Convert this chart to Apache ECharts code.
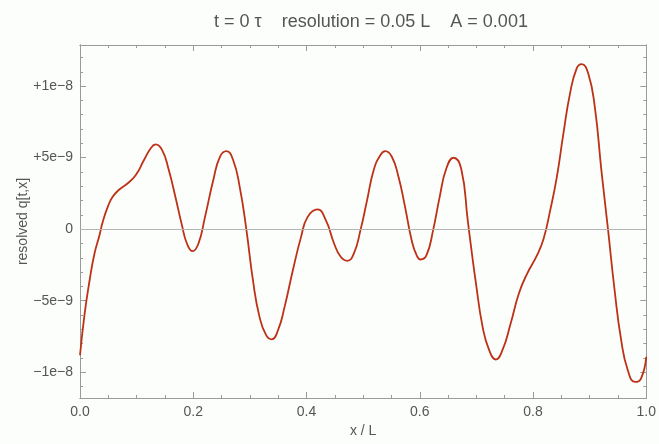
<!DOCTYPE html>
<html>
<head>
<meta charset="utf-8">
<script src="https://cdn.jsdelivr.net/npm/echarts@6/dist/echarts.min.js"></script>
<style>
  html, body { margin: 0; padding: 0; background: #fcfefc; }
  #chart { width: 659px; height: 444px; }
</style>
</head>
<body>
<div id="chart"></div>
<script>
// x positions (units of L) and resolved q (units of 1e-9)
const xs = [0, 0.0082, 0.017, 0.0256, 0.0344, 0.0402, 0.049, 0.0577, 0.0694, 0.0839,
  0.0985, 0.113, 0.1247, 0.1335, 0.1451, 0.1568, 0.1684, 0.18, 0.1888, 0.1987,
  0.2092, 0.2208, 0.2354, 0.2471, 0.2587, 0.2704, 0.282, 0.2937, 0.3054, 0.317,
  0.3287, 0.3385, 0.3497, 0.3613, 0.3759, 0.3904, 0.4021, 0.4196, 0.4341, 0.4487,
  0.4604, 0.472, 0.4837, 0.4953, 0.507, 0.5187, 0.5303, 0.539, 0.5507, 0.5624,
  0.574, 0.5857, 0.5944, 0.6014, 0.6119, 0.6236, 0.6352, 0.6469, 0.6597, 0.6731,
  0.6847, 0.6906, 0.6993, 0.711, 0.7226, 0.7343, 0.746, 0.7605, 0.775, 0.7897,
  0.8072, 0.8188, 0.8304, 0.8421, 0.8537, 0.8654, 0.8771, 0.8858, 0.8974, 0.9091,
  0.9207, 0.9324, 0.9441, 0.9557, 0.9674, 0.9802, 0.9907, 1.0];
const qs = [-8.81, -5.9, -3.57, -1.7, -0.42, 0.51, 1.56, 2.26, 2.77, 3.19,
  3.78, 4.83, 5.64, 5.92, 5.52, 4.13, 2.26, 0.28, -1.0, -1.54,
  -1.0, 0.86, 3.43, 5.06, 5.45, 4.83, 2.96, 0, -3.57, -6.13,
  -7.41, -7.7, -7.06, -5.43, -2.87, -0.54, 0.86, 1.38, 0.63, -1.0,
  -1.93, -2.21, -1.7, -0.07, 2.03, 4.13, 5.17, 5.45, 5.06, 3.66,
  1.56, -0.77, -1.82, -2.12, -1.82, -0.07, 2.26, 4.24, 4.99, 4.24,
  0.63, -1.24, -3.8, -6.83, -8.46, -9.11, -8.46, -6.6, -4.5, -3.1,
  -1.82, -0.65, 1.33, 3.66, 6.69, 9.49, 11.24, 11.54, 10.89, 8.55,
  4.13, 0, -4.27, -7.76, -9.86, -10.68, -10.44, -8.93];

const yMajor = [-10, -5, 0, 5, 10];
const yLabels = ['\u22121e\u22128', '\u22125e\u22129', '0', '+5e\u22129', '+1e\u22128'];
const yMinor = [-11, -9, -8, -7, -6, -4, -3, -2, -1, 1, 2, 3, 4, 6, 7, 8, 9, 11, 12];
const xMajor = [0, 0.2, 0.4, 0.6, 0.8, 1.0];
const xLabels = ['0.0', '0.2', '0.4', '0.6', '0.8', '1.0'];
const xMinor = [0.05, 0.1, 0.15, 0.25, 0.3, 0.35, 0.45, 0.5, 0.55, 0.65, 0.7, 0.75, 0.85, 0.9, 0.95];

const frame = '#9a9a9a';
const textColor = '#555';
const font = 'Liberation Sans, Arial, sans-serif';

function xAxis(pos, ticks, len, labels, name) {
  return {
    type: 'value', position: pos, min: 0, max: 1,
    name: name || '', nameLocation: 'middle', nameGap: 25,
    nameTextStyle: { color: textColor, fontSize: 14, fontFamily: font },
    axisLine: { show: true, onZero: false, lineStyle: { color: frame, width: 1 } },
    axisTick: { show: true, inside: true, length: len, customValues: ticks, lineStyle: { color: frame } },
    axisLabel: labels ? {
      show: true, customValues: xMajor, color: textColor, fontSize: 14, fontFamily: font, margin: 7,
      formatter: v => xLabels[xMajor.findIndex(m => Math.abs(m - v) < 1e-6)]
    } : { show: false },
    splitLine: { show: false }
  };
}

function yAxis(pos, ticks, len, labels, name) {
  return {
    type: 'value', position: pos, min: -11.8, max: 12.87,
    name: name || '', nameLocation: 'middle', nameGap: 50, nameMoveOverlap: false,
    nameTextStyle: { color: textColor, fontSize: 14, fontFamily: font },
    axisLine: { show: true, onZero: false, lineStyle: { color: frame, width: 1 } },
    axisTick: { show: true, inside: true, length: len, customValues: ticks, lineStyle: { color: frame } },
    axisLabel: labels ? {
      show: true, customValues: yMajor, color: textColor, fontSize: 14, fontFamily: font, margin: 7,
      formatter: v => yLabels[yMajor.findIndex(m => Math.abs(m - v) < 1e-6)]
    } : { show: false },
    splitLine: { show: false }
  };
}

const chart = echarts.init(document.getElementById('chart'));
chart.setOption({
  backgroundColor: '#fcfefc',
  animation: false,
  title: {
    text: 't = 0 \u03c4    resolution = 0.05 L    A = 0.001',
    left: 366, top: 8, textAlign: 'center',
    textStyle: { color: textColor, fontSize: 18, fontWeight: 'normal', fontFamily: font }
  },
  grid: { left: 80, right: 7, top: 45, bottom: 46 },
  xAxis: [
    xAxis('bottom', xMajor, 6, true, 'x / L'),
    xAxis('bottom', xMinor, 3, false),
    xAxis('top', xMajor, 6, false),
    xAxis('top', xMinor, 3, false)
  ],
  yAxis: [
    yAxis('left', yMajor, 6, true, 'resolved q[t,x]'),
    yAxis('left', yMinor, 3, false),
    yAxis('right', yMajor, 6, false),
    yAxis('right', yMinor, 3, false)
  ],
  series: [{
    type: 'line',
    data: xs.map((x, i) => [x, qs[i]]),
    smooth: 0.5,
    showSymbol: false,
    lineStyle: { color: '#bd3116', width: 1.8 },
    markLine: {
      silent: true, symbol: 'none', label: { show: false },
      lineStyle: { color: '#b4b4b4', type: 'solid', width: 1.2 },
      data: [{ yAxis: 0 }]
    },
    z: 3
  }]
});
</script>
</body>
</html>
